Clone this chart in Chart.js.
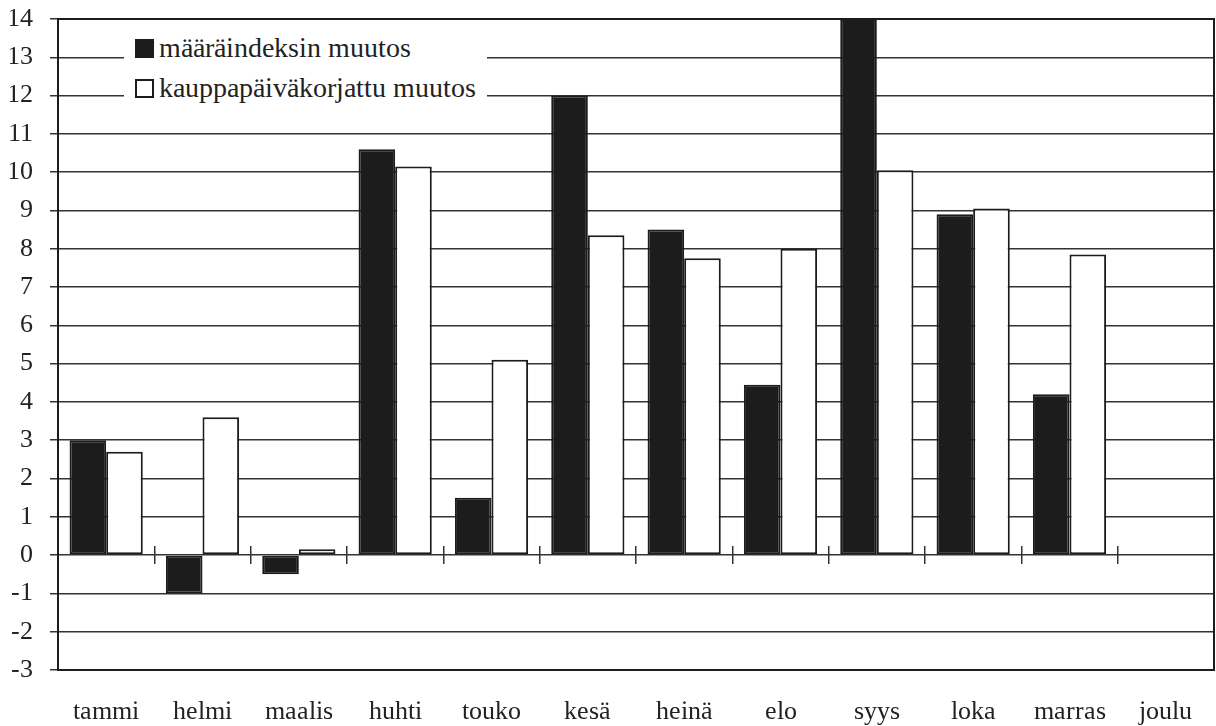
<!DOCTYPE html>
<html>
<head>
<meta charset="utf-8">
<script src="https://cdn.jsdelivr.net/npm/chart.js@4.4.1/dist/chart.umd.min.js"></script>
<style>
  @font-face {
    font-family: "ChartSerif";
    src: local("Liberation Serif"), local("LiberationSerif"), local("LiberationSerif-Regular"),
         local("DejaVu Serif"), local("DejaVuSerif");
  }
  body { margin: 0; background: #fff; }
  #wrap { position: relative; width: 1216px; height: 726px; }
  #legend {
    position: absolute; left: 124px; top: 28px; width: 363px; height: 82px;
    background: #fff; padding-left: 11px; box-sizing: border-box;
    font-family: "ChartSerif", "Liberation Serif", "DejaVu Serif", Times, serif;
    font-size: 28px; color: #222;
  }
  .row { display: flex; align-items: center; height: 40px; }
  .box { width: 19px; height: 19px; border: 2px solid #1c1c1c; box-sizing: border-box; margin-right: 5px; }
</style>
</head>
<body>
<div id="wrap">
  <canvas id="chart" width="1216" height="726"></canvas>
  <div id="legend"></div>
</div>
<script>
const months = ["tammi", "helmi", "maalis", "huhti", "touko", "kesä", "heinä", "elo", "syys", "loka", "marras", "joulu"];
const seriesNames = ["määräindeksin muutos", "kauppapäiväkorjattu muutos"];
const volumeChange = [3.0, -1.0, -0.5, 10.6, 1.5, 12.0, 8.5, 4.45, 14.0, 8.9, 4.2, null];
const adjustedChange = [2.7, 3.6, 0.15, 10.15, 5.1, 8.35, 7.75, 8.0, 10.05, 9.05, 7.85, null];
const yMin = -3;
const yMax = 14;

const ink = "#1c1c1c";
const fills = [ink, "#ffffff"];
const serif = '"ChartSerif", "Liberation Serif", "DejaVu Serif", Times, serif';

// legend sits inside the plot, covering the gridlines behind it
const legendEl = document.getElementById("legend");
seriesNames.forEach((name, i) => {
  const row = document.createElement("div");
  row.className = "row";
  const box = document.createElement("span");
  box.className = "box";
  box.style.background = fills[i];
  const txt = document.createElement("span");
  txt.textContent = name;
  row.appendChild(box);
  row.appendChild(txt);
  legendEl.appendChild(row);
});

const framePlugin = {
  id: "frame",
  afterDraw(chart) {
    const a = chart.chartArea;
    const ctx = chart.ctx;
    ctx.save();
    ctx.strokeStyle = ink;
    ctx.lineWidth = 2;
    ctx.strokeRect(a.left, a.top, a.right - a.left, a.bottom - a.top);
    ctx.restore();
  }
};

const chart = new Chart(document.getElementById("chart"), {
  type: "bar",
  data: {
    labels: months,
    datasets: [
      { label: seriesNames[0], data: volumeChange, backgroundColor: fills[0] },
      { label: seriesNames[1], data: adjustedChange, backgroundColor: fills[1] }
    ]
  },
  options: {
    responsive: false,
    animation: false,
    devicePixelRatio: 1,
    layout: { padding: { left: 10, right: 2, top: 6, bottom: 0 } },
    datasets: {
      bar: {
        borderColor: ink,
        borderWidth: 2,
        borderSkipped: false,
        barPercentage: 1,
        categoryPercentage: 0.76
      }
    },
    plugins: {
      legend: { display: false },
      tooltip: { enabled: false }
    },
    scales: {
      x: {
        position: "bottom",
        afterFit(scale) { scale.height = 56; },
        grid: { display: false },
        border: { display: false },
        ticks: {
          color: "#222",
          padding: 21,
          maxRotation: 0,
          font: { family: serif, size: 26, lineHeight: 1 }
        }
      },
      // small marks crossing the zero line between the months
      x0: {
        type: "category",
        labels: months,
        position: { y: 0.235 },
        offset: true,
        afterFit(scale) { scale.height = 0; },
        grid: {
          offset: true,
          drawOnChartArea: false,
          drawTicks: true,
          tickLength: 18,
          color: "#333",
          lineWidth: 1.5
        },
        border: { display: false },
        ticks: { display: false }
      },
      y: {
        min: yMin,
        max: yMax,
        afterFit(scale) {
          scale.width = 48;
          scale.paddingTop = 19;
          scale.paddingBottom = 0;
        },
        grid: { color: "#333", lineWidth: 1.5, tickLength: 8 },
        border: { color: ink, width: 2 },
        ticks: {
          stepSize: 1,
          color: "#222",
          padding: 17,
          font: { family: serif, size: 26, lineHeight: 1 }
        }
      }
    }
  },
  plugins: [framePlugin]
});

// redraw once the serif face is ready
document.fonts.load('26px "ChartSerif"').then(() => chart.update("none"));
document.fonts.ready.then(() => chart.update("none"));
</script>
</body>
</html>
